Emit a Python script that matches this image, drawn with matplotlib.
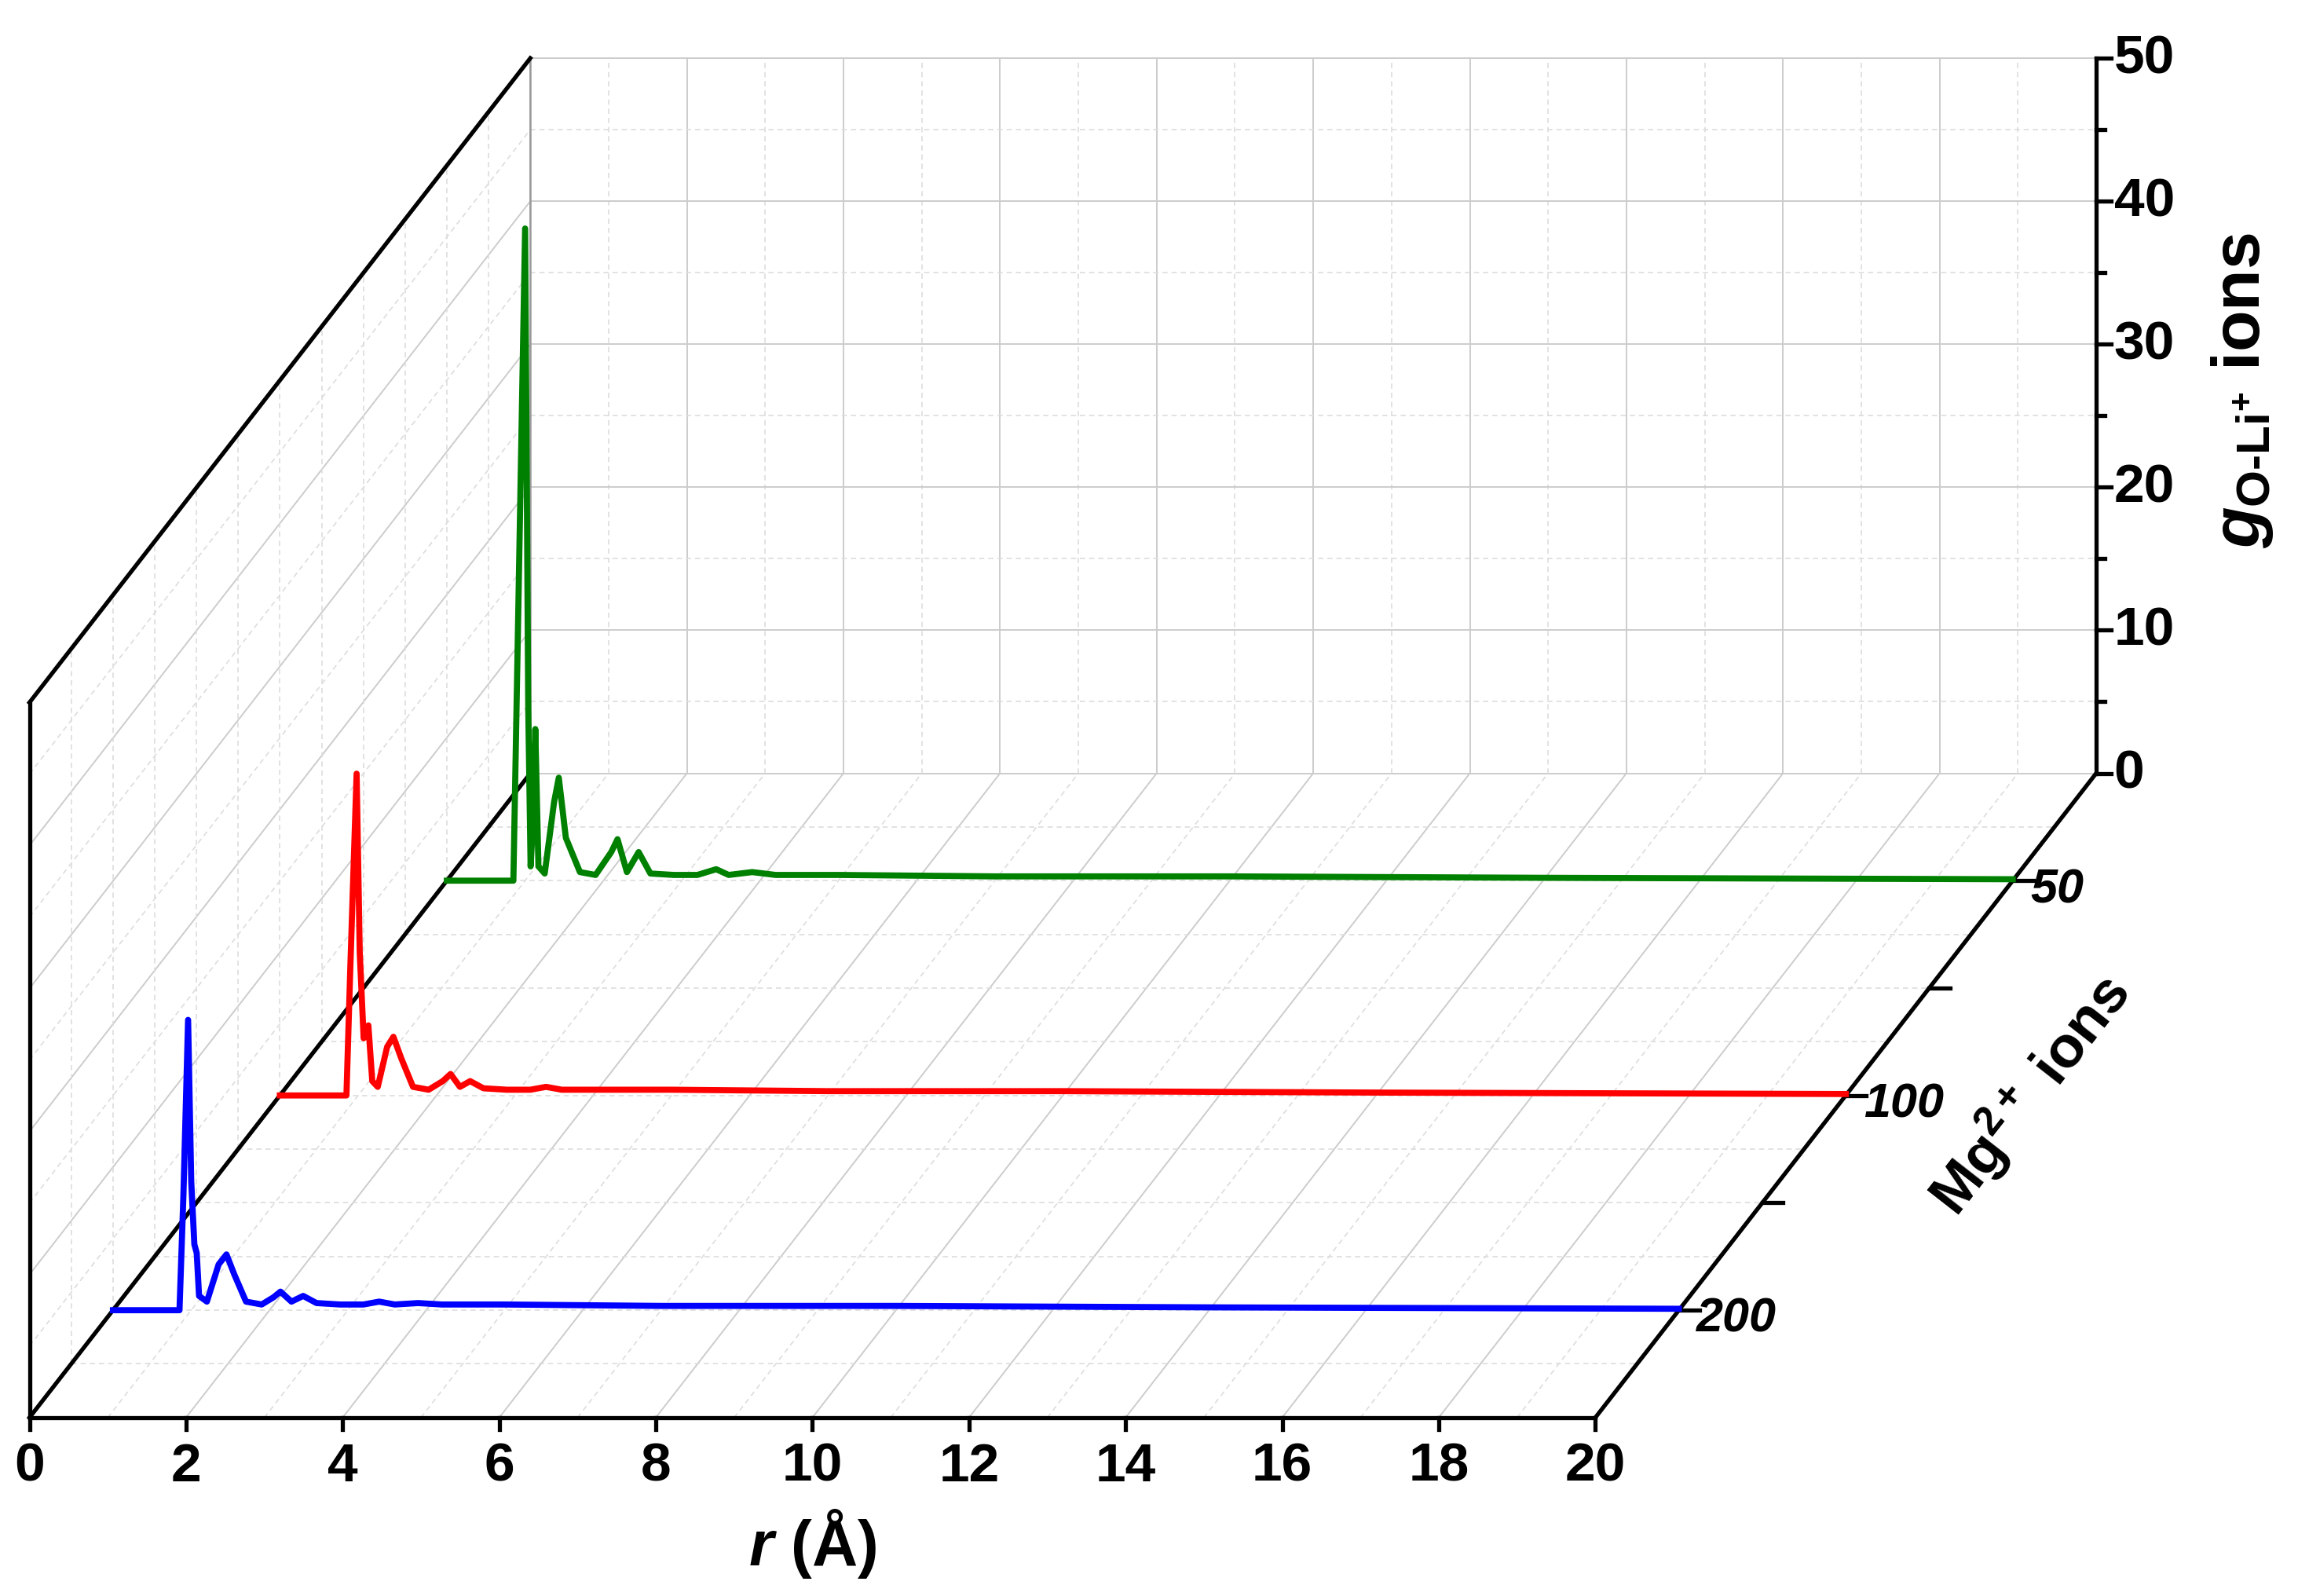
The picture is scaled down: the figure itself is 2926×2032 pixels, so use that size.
import matplotlib
matplotlib.use("Agg")
import matplotlib.pyplot as plt
from matplotlib.transforms import Affine2D

plt.rcParams['font.family'] = ['Liberation Sans', 'DejaVu Sans']
plt.rcParams['font.weight'] = 'bold'
plt.rcParams['mathtext.fontset'] = 'custom'
plt.rcParams['mathtext.rm'] = 'Liberation Sans:bold'
plt.rcParams['mathtext.bf'] = 'Liberation Sans:bold'
plt.rcParams['mathtext.it'] = 'Liberation Sans:bold:italic'

# ---- data ----
r_blue = [0, 0.85, 0.9, 0.96, 1.0, 1.04, 1.07, 1.1, 1.2, 1.35, 1.45, 1.55, 1.7, 1.9, 2.05, 2.14, 2.28, 2.43, 2.6, 2.9, 3.2, 3.4, 3.6, 3.9, 4.2, 5, 7, 10, 14, 20]
g_blue = [0, 0, 8, 20.3, 9, 4.6, 4.0, 1.0, 0.6, 3.2, 3.9, 2.5, 0.6, 0.4, 0.9, 1.3, 0.6, 1.0, 0.5, 0.4, 0.4, 0.6, 0.4, 0.5, 0.4, 0.4, 0.3, 0.3, 0.2, 0.1]
r_red = [0, 0.85, 0.9, 0.98, 1.02, 1.07, 1.13, 1.18, 1.25, 1.37, 1.45, 1.55, 1.7, 1.9, 2.08, 2.18, 2.3, 2.43, 2.6, 2.9, 3.2, 3.4, 3.6, 3.9, 4.2, 5, 7, 10, 14, 20]
g_red = [0, 0, 9, 22.5, 10, 4.0, 4.9, 1.0, 0.6, 3.4, 4.1, 2.6, 0.6, 0.4, 1.0, 1.5, 0.6, 1.0, 0.5, 0.4, 0.4, 0.6, 0.4, 0.4, 0.4, 0.4, 0.3, 0.3, 0.2, 0.1]
r_green = [0, 0.85, 0.9, 1.0, 1.04, 1.07, 1.1, 1.13, 1.17, 1.25, 1.37, 1.43, 1.52, 1.7, 1.9, 2.1, 2.18, 2.3, 2.45, 2.6, 2.9, 3.2, 3.44, 3.6, 3.9, 4.2, 5, 7, 10, 14, 20]
g_green = [0, 0, 15, 45.6, 12, 1.0, 4.0, 10.6, 1.0, 0.5, 5.5, 7.2, 3.0, 0.6, 0.4, 2.0, 2.9, 0.6, 2.0, 0.5, 0.4, 0.4, 0.8, 0.4, 0.6, 0.4, 0.4, 0.3, 0.3, 0.2, 0.1]
series = [(r_blue, g_blue, 1/6, 'blue'), (r_red, g_red, 3/6, 'red'), (r_green, g_green, 5/6, 'green')]
depth_labels = ['200', '100', '50']
depth_label_pos = [1/6, 3/6, 5/6]
r_ticks = list(range(0, 21, 2))
g_ticks = list(range(0, 51, 10))

# ---- projection (display pixel space of 1560x1083 reference) ----
X0, Y0, SR, SG, DX, DY = 20, 962, 53.15, 9.7, 340, 437
def P(r, g, d):
    return X0 + SR * r + DX * d, Y0 - SG * g - DY * d

fig = plt.figure(figsize=(14.63, 10.165), dpi=200)
ax = fig.add_axes([0, 0, 1, 1])
ax.set_xlim(0, 1560)
ax.set_ylim(1083, 0)
ax.axis('off')

def seg(p, q, **kw):
    ax.plot([p[0], q[0]], [p[1], q[1]], **kw)

gmaj = dict(color='#cccccc', lw=0.7, zorder=1)
gmin = dict(color='#dddddd', lw=0.6, ls=(0, (4, 3)), zorder=1)
# back wall
for r in range(0, 21):
    seg(P(r, 0, 1), P(r, 50, 1), **(gmaj if r % 2 == 0 else gmin))
for g in range(0, 51, 5):
    seg(P(0, g, 1), P(20, g, 1), **(gmaj if g % 10 == 0 else gmin))
# left wall
for g in range(5, 51, 5):
    seg(P(0, g, 0), P(0, g, 1), **(gmaj if g % 10 == 0 else gmin))
for k in range(1, 12):
    seg(P(0, 0, k / 12), P(0, 50, k / 12), **gmin)
# floor
for r in range(1, 21):
    seg(P(r, 0, 0), P(r, 0, 1), **(gmaj if r % 2 == 0 else gmin))
for k in range(1, 12):
    seg(P(0, 0, k / 12), P(20, 0, k / 12), **gmin)

# frame
fk = dict(color='black', lw=1.9, zorder=3, solid_capstyle='projecting')
seg(P(0, 0, 0), P(20, 0, 0), **fk)
seg(P(0, 0, 0), P(0, 50, 0), **fk)
seg(P(0, 50, 0), P(0, 50, 1), **fk)
seg(P(0, 0, 0), P(0, 0, 1), **fk)
seg(P(20, 0, 0), P(20, 0, 1), **fk)
seg(P(20, 0, 1), P(20, 50, 1), **fk)
seg(P(0, 0, 1), P(0, 50, 1), color='#999999', lw=0.9, zorder=2)

# data
for r, g, d, c in series:
    tr = Affine2D().scale(SR, -SG).translate(X0 + DX * d, Y0 - DY * d) + ax.transData
    ax.plot(r, g, color=c, lw=2.8, transform=tr, zorder=4, solid_joinstyle='round')

# x ticks
for r in r_ticks:
    x, y = P(r, 0, 0)
    seg((x, y), (x, y + 8), **fk)
    ax.text(x, y + 16, str(r), ha='center', va='top', fontsize=25, fontweight='bold')
ax.text(P(10, 0, 0)[0], 1072, r'$\mathit{r}$ (Å)', ha='center', va='bottom', fontsize=29, fontweight='bold')

# g ticks
for g in range(0, 51, 5):
    x, y = P(20, g, 1)
    seg((x, y), (x + (10 if g % 10 == 0 else 6), y), **fk)
for g in g_ticks:
    x, y = P(20, g, 1)
    ax.text(x + 12, y, str(g), ha='left', va='center', fontsize=25, fontweight='bold')
ax.text(1522, 265, r'$\mathit{g}_{\mathrm{O\text{-}Li}^{+}}$ ions', rotation=90, ha='center', va='center', fontsize=31, fontweight='bold')

# depth ticks
for k in range(1, 6):
    x, y = P(20, 0, k / 6)
    seg((x, y), (x + 14, y), **fk)
for lab, d in zip(depth_labels, depth_label_pos):
    x, y = P(20, 0, d)
    ax.text(x + 12, y + 6, lab, ha='left', va='center', fontsize=22, fontweight='bold', style='italic')
ax.text(1378, 742, r'Mg$^{2+}$ ions', rotation=52, ha='center', va='center', fontsize=27, fontweight='bold')

fig.savefig('out.png', dpi=200)
